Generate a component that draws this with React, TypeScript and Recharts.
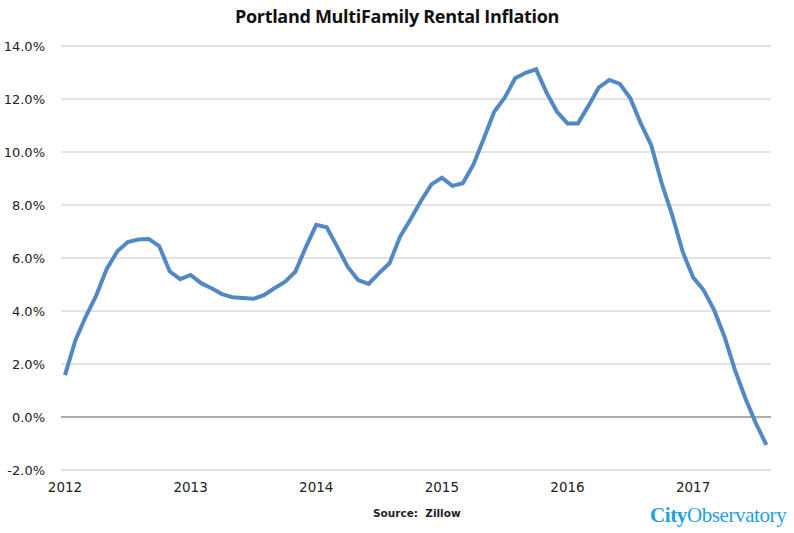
import { LineChart, Line, XAxis, YAxis, CartesianGrid, ReferenceLine } from "recharts";

// monthly year-over-year change, Jan 2012 .. Aug 2017
const inflation = [
  1.58, 2.9, 3.8, 4.6, 5.6, 6.25, 6.6, 6.7, 6.72, 6.45, 5.5, 5.2,
  5.36, 5.05, 4.86, 4.64, 4.52, 4.49, 4.46, 4.6, 4.86, 5.1, 5.48, 6.4,
  7.25, 7.16, 6.43, 5.67, 5.17, 5.02, 5.43, 5.8, 6.8, 7.45, 8.15, 8.78,
  9.03, 8.72, 8.82, 9.51, 10.5, 11.52, 12.05, 12.78, 12.99, 13.12, 12.24, 11.52,
  11.08, 11.08, 11.74, 12.44, 12.72, 12.57, 12.03, 11.08, 10.26, 8.82, 7.62, 6.24,
  5.27, 4.79, 4.04, 3.03, 1.77, 0.7, -0.24, -1.05,
];
const years = ["2012", "2013", "2014", "2015", "2016", "2017"];
const yTicks = [-2, 0, 2, 4, 6, 8, 10, 12, 14];

const data = inflation.map((v, i) => ({ m: i, value: v }));
const yearTicks = years.map((_, i) => i * 12);

const axisFont = { fontFamily: "DejaVu Sans", fill: "#222" };

export default function App() {
  return (
    <div style={{ position: "relative", width: 794, height: 533, background: "#fff" }}>
      <style>{`body{margin:0}`}</style>
      <div
        style={{
          position: "absolute",
          top: 4,
          left: 0,
          width: 794,
          textAlign: "center",
          fontFamily: "Open Sans",
          fontWeight: 700,
          fontSize: 18,
          color: "#111",
          letterSpacing: -0.3,
        }}
      >
        Portland MultiFamily Rental Inflation
      </div>
      <LineChart
        width={794}
        height={533}
        data={data}
        margin={{ top: 46, right: 23, left: 0, bottom: 33 }}
      >
        <CartesianGrid vertical={false} stroke="#c8c8c8" strokeWidth={1.2} />
        <XAxis
          dataKey="m"
          type="number"
          domain={[-0.38, 67.44]}
          ticks={yearTicks}
          tickFormatter={(v) => years[Math.round(v / 12)]}
          axisLine={false}
          tickLine={false}
          tickMargin={6}
          height={30}
          tick={{ ...axisFont, fontSize: 13.5 }}
          interval={0}
        />
        <YAxis
          domain={[-2, 14]}
          ticks={yTicks}
          tickFormatter={(v) => v.toFixed(1) + "%"}
          axisLine={false}
          tickLine={false}
          tickMargin={10}
          width={61}
          tick={{ ...axisFont, fontSize: 13 }}
          interval={0}
        />
        <ReferenceLine y={0} stroke="#9a9a9a" strokeWidth={1.5} />
        <Line
          type="linear"
          dataKey="value"
          stroke="#5289c4"
          strokeWidth={4}
          dot={false}
          isAnimationActive={false}
        />
      </LineChart>
      <div
        style={{
          position: "absolute",
          top: 507,
          left: 373,
          fontFamily: "DejaVu Sans",
          fontWeight: 700,
          fontSize: 10.5,
          color: "#222",
          whiteSpace: "pre",
        }}
      >
        {"Source:  Zillow"}
      </div>
      <div
        style={{
          position: "absolute",
          top: 503,
          left: 650,
          fontFamily: "Liberation Serif",
          fontSize: 21,
          color: "#1ea0e6",
          letterSpacing: -0.4,
        }}
      >
        <span style={{ fontWeight: 700 }}>City</span>Observatory
      </div>
    </div>
  );
}
